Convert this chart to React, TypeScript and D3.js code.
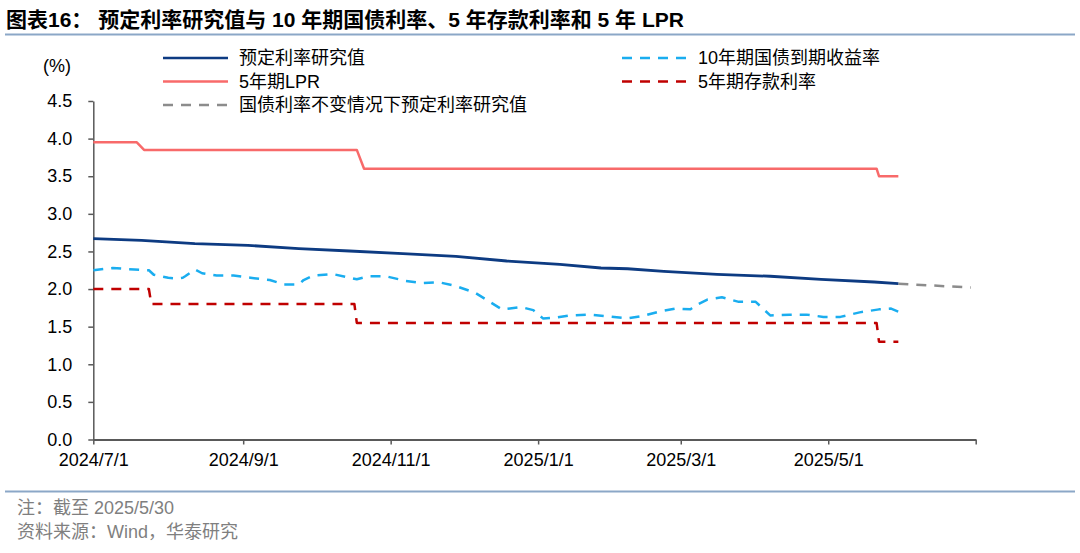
import { useEffect, useRef } from 'react';
import * as d3 from 'd3';

// 预定利率研究值
const researchDates = [
  '2024-07-01', '2024-07-21', '2024-08-12', '2024-09-03', '2024-09-24', '2024-10-15',
  '2024-11-06', '2024-11-28', '2024-12-19', '2025-01-10', '2025-01-27', '2025-02-07',
  '2025-02-22', '2025-03-16', '2025-04-07', '2025-04-28', '2025-05-20', '2025-05-30',
];
const researchValues = [
  2.67, 2.648, 2.603, 2.581, 2.537, 2.506,
  2.47, 2.435, 2.373, 2.329, 2.28, 2.27,
  2.236, 2.196, 2.17, 2.13, 2.094, 2.071,
];

// 10年期国债到期收益率
const bondDates = [
  '2024-07-01', '2024-07-09', '2024-07-18', '2024-07-24', '2024-07-26', '2024-08-01',
  '2024-08-05', '2024-08-07', '2024-08-08', '2024-08-12', '2024-08-15', '2024-08-21',
  '2024-08-28', '2024-09-04', '2024-09-12', '2024-09-18', '2024-09-24', '2024-09-26',
  '2024-09-30', '2024-10-08', '2024-10-18', '2024-10-23', '2024-10-30', '2024-11-07',
  '2024-11-14', '2024-11-21', '2024-11-28', '2024-12-06', '2024-12-12', '2024-12-17',
  '2024-12-25', '2024-12-30', '2025-01-03', '2025-01-08', '2025-01-14', '2025-01-22',
  '2025-01-29', '2025-02-07', '2025-02-13', '2025-02-20', '2025-02-27', '2025-03-05',
  '2025-03-07', '2025-03-12', '2025-03-18', '2025-03-25', '2025-04-01', '2025-04-03',
  '2025-04-07', '2025-04-15', '2025-04-22', '2025-04-29', '2025-05-06', '2025-05-14',
  '2025-05-22', '2025-05-27', '2025-05-30',
];
const bondValues = [
  2.25, 2.28, 2.26, 2.25, 2.19, 2.15,
  2.14, 2.15, 2.17, 2.26, 2.21, 2.18,
  2.18, 2.15, 2.12, 2.06, 2.06, 2.12,
  2.18, 2.2, 2.13, 2.17, 2.17, 2.11,
  2.08, 2.09, 2.04, 1.95, 1.83, 1.73,
  1.76, 1.72, 1.61, 1.62, 1.65, 1.66,
  1.64, 1.61, 1.64, 1.7, 1.74, 1.73,
  1.78, 1.86, 1.89, 1.83, 1.83, 1.77,
  1.65, 1.66, 1.66, 1.63, 1.63, 1.69,
  1.73, 1.74, 1.7,
];

// 5年期LPR
const lprDates = ['2024-07-01', '2024-07-19', '2024-07-22', '2024-10-18', '2024-10-21', '2025-05-21', '2025-05-22', '2025-05-30'];
const lprValues = [3.95, 3.95, 3.85, 3.85, 3.6, 3.6, 3.5, 3.5];

// 5年期存款利率
const depositDates = ['2024-07-01', '2024-07-24', '2024-07-25', '2024-10-17', '2024-10-18', '2025-05-21', '2025-05-22', '2025-05-30'];
const depositValues = [2.0, 2.0, 1.8, 1.8, 1.55, 1.55, 1.3, 1.3];

// 国债利率不变情况下预定利率研究值
const flatDates = ['2025-05-30', '2025-06-29'];
const flatValues = [2.071, 2.02];

const yTicks = [0, 0.5, 1, 1.5, 2, 2.5, 3, 3.5, 4, 4.5];

const legendItems = [
  { label: '预定利率研究值', color: '#0D3B82', dash: null, col: 0, row: 0 },
  { label: '5年期LPR', color: '#F86A6A', dash: null, col: 0, row: 1 },
  { label: '国债利率不变情况下预定利率研究值', color: '#8C8C8C', dash: '10,8', col: 0, row: 2 },
  { label: '10年期国债到期收益率', color: '#1AADEF', dash: '10,8', col: 1, row: 0 },
  { label: '5年期存款利率', color: '#C00000', dash: '10,8', col: 1, row: 1 },
];

const FONT = "'Liberation Sans', Arial, 'Noto Sans CJK SC', sans-serif";

const App = () => {
  const svgRef = useRef<SVGSVGElement>(null);

  useEffect(() => {
    if (!svgRef.current) return;
    const svg = d3.select(svgRef.current);
    svg.selectAll('*').remove();

    const width = 1080;
    const height = 553;
    const parse = d3.timeParse('%Y-%m-%d');

    svg.attr('width', width).attr('height', height).style('font-family', FONT);

    svg.append('rect').attr('width', width).attr('height', height).attr('fill', '#fff');

    // Title
    svg.append('text')
      .attr('x', 6)
      .attr('y', 27)
      .attr('font-size', 21)
      .attr('font-weight', 'bold')
      .attr('fill', '#000')
      .text('图表16：  预定利率研究值与 10 年期国债利率、5 年存款利率和 5 年 LPR');

    svg.append('line')
      .attr('x1', 5).attr('x2', 1075)
      .attr('y1', 34.5).attr('y2', 34.5)
      .attr('stroke', '#8BA7C7').attr('stroke-width', 2);

    // Scales
    const x = d3.scaleTime()
      .domain([parse('2024-07-01')!, parse('2025-07-01')!])
      .range([93.3, 975.7]);

    const y = d3.scaleLinear()
      .domain([0, 4.5])
      .range([439.5, 101]);

    // Axes
    const lastTick = +parse('2025-07-01')!;
    const xAxis = svg.append('g')
      .attr('transform', `translate(0,${y(0)})`)
      .call(
        d3.axisBottom(x)
          .ticks(d3.timeMonth.every(2))
          .tickSize(5)
          .tickSizeOuter(0)
          .tickPadding(9)
          .tickFormat((d) => (+d === lastTick ? '' : d3.timeFormat('%Y/%-m/%-d')(d as Date)))
      );
    xAxis.select('.domain').attr('stroke', '#595959').attr('stroke-width', 2);
    xAxis.selectAll('.tick line').attr('stroke', '#595959').attr('stroke-width', 1.5);
    xAxis.selectAll('.tick text').attr('font-size', 18).attr('fill', '#000').style('font-family', FONT);

    const yAxis = svg.append('g')
      .attr('transform', `translate(${x.range()[0]},0)`)
      .call(
        d3.axisLeft(y)
          .tickValues(yTicks)
          .tickSize(5)
          .tickSizeOuter(0)
          .tickPadding(16)
          .tickFormat(d3.format('.1f'))
      );
    yAxis.select('.domain').attr('stroke', '#595959').attr('stroke-width', 1.5);
    yAxis.selectAll('.tick line').attr('stroke', '#595959').attr('stroke-width', 1.5);
    yAxis.selectAll('.tick text').attr('font-size', 18).attr('fill', '#000').style('font-family', FONT);

    svg.append('text')
      .attr('x', 57)
      .attr('y', 72)
      .attr('text-anchor', 'middle')
      .attr('font-size', 18)
      .attr('fill', '#000')
      .text('(%)');

    // Lines
    const line = d3.line<[Date, number]>()
      .x((d) => x(d[0]))
      .y((d) => y(d[1]));

    const series = [
      { dates: lprDates, values: lprValues, color: '#F86A6A', dash: null, w: 2.5 },
      { dates: depositDates, values: depositValues, color: '#C00000', dash: '10,8', w: 2.5 },
      { dates: bondDates, values: bondValues, color: '#1AADEF', dash: '10,8', w: 2.5 },
      { dates: flatDates, values: flatValues, color: '#8C8C8C', dash: '10,8', w: 2.5 },
      { dates: researchDates, values: researchValues, color: '#0D3B82', dash: null, w: 2.8 },
    ];

    series.forEach((s) => {
      const pts = s.dates.map((d, i) => [parse(d)!, s.values[i]] as [Date, number]);
      svg.append('path')
        .datum(pts)
        .attr('d', line)
        .attr('fill', 'none')
        .attr('stroke', s.color)
        .attr('stroke-width', s.w)
        .attr('stroke-dasharray', s.dash)
        .attr('stroke-linejoin', 'round');
    });

    // Legend
    const colX = [163, 622];
    const rowY = [58, 81.5, 105];
    const legend = svg.append('g');
    legendItems.forEach((item) => {
      const lx = colX[item.col];
      const ly = rowY[item.row];
      legend.append('line')
        .attr('x1', lx).attr('x2', lx + 65)
        .attr('y1', ly).attr('y2', ly)
        .attr('stroke', item.color)
        .attr('stroke-width', 2.5)
        .attr('stroke-dasharray', item.dash);
      legend.append('text')
        .attr('x', lx + 76)
        .attr('y', ly)
        .attr('dominant-baseline', 'central')
        .attr('font-size', 18)
        .attr('fill', '#000')
        .text(item.label);
    });

    // Footer
    svg.append('line')
      .attr('x1', 5).attr('x2', 1075)
      .attr('y1', 491.5).attr('y2', 491.5)
      .attr('stroke', '#8BA7C7').attr('stroke-width', 2);

    svg.append('text')
      .attr('x', 17).attr('y', 508)
      .attr('dominant-baseline', 'central')
      .attr('font-size', 18)
      .attr('fill', '#7F7F7F')
      .text('注：截至 2025/5/30');

    svg.append('text')
      .attr('x', 17).attr('y', 532)
      .attr('dominant-baseline', 'central')
      .attr('font-size', 18)
      .attr('fill', '#7F7F7F')
      .text('资料来源：Wind，华泰研究');
  }, []);

  return (
    <div style={{ position: 'absolute', left: 0, top: 0 }}>
      <svg ref={svgRef} style={{ display: 'block' }} />
    </div>
  );
};

export default App;
